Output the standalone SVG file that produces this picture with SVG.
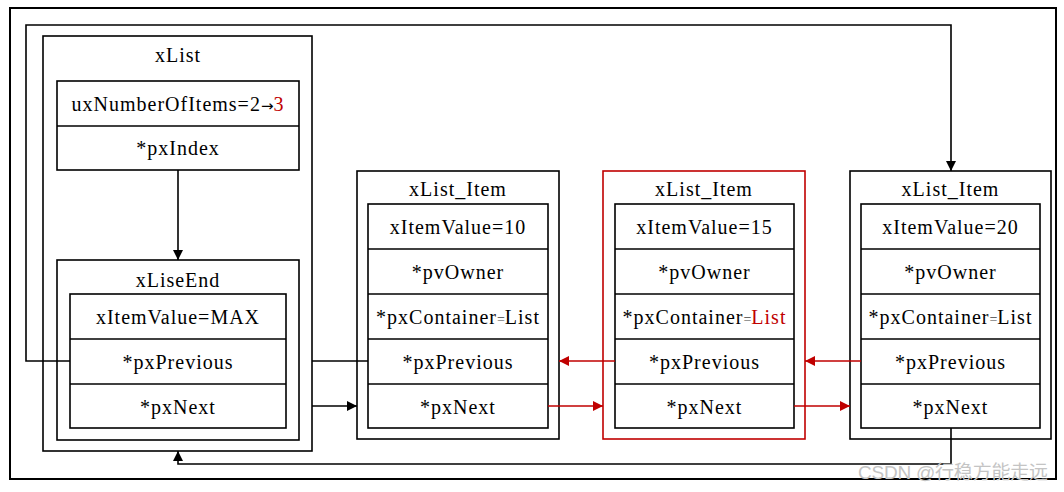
<svg xmlns="http://www.w3.org/2000/svg" width="1064" height="492" viewBox="0 0 1064 492">
<style>
.box{fill:none;stroke:#000;stroke-width:1.6}
.rbox{fill:none;stroke:#c00000;stroke-width:1.6}
.t{font-family:"Liberation Serif","Times New Roman",serif;font-size:20px;letter-spacing:1px;fill:#000;text-anchor:middle}
.eq{font-size:14px;fill:#444;letter-spacing:0}
.arr{font-family:"DejaVu Sans",sans-serif;font-size:15px;fill:#000;letter-spacing:0}
.red{fill:#c00000}
.c{fill:none;stroke:#000;stroke-width:1.6}
.rc{fill:none;stroke:#c00000;stroke-width:1.6}
.wm{font-family:"Liberation Sans","Noto Sans CJK SC",sans-serif;font-size:19px;fill:#c4c4c4}
</style>
<defs>
<marker id="ab" markerUnits="userSpaceOnUse" markerWidth="10" markerHeight="10" refX="10" refY="5" orient="auto"><path d="M0,0 L10,5 L0,10 z" fill="#000"/></marker>
<marker id="ar" markerUnits="userSpaceOnUse" markerWidth="10" markerHeight="10" refX="10" refY="5" orient="auto"><path d="M0,0 L10,5 L0,10 z" fill="#c00000"/></marker>
</defs>
<rect x="10" y="8" width="1046" height="471" fill="#fff" stroke="#000" stroke-width="2"/>

<g id="xList">
<rect class="box" x="43" y="36" width="269" height="415"/>
<text class="t" x="178" y="62">xList</text>
<rect class="box" x="57" y="81" width="242" height="89"/>
<line class="box" x1="57" y1="126" x2="299" y2="126"/>
<text class="t" x="178" y="110.5">uxNumberOfItems=2<tspan class="arr">→</tspan><tspan class="red">3</tspan></text>
<text class="t" x="178" y="155">*pxIndex</text>
</g>

<g id="xLiseEnd">
<rect class="box" x="57" y="260" width="242" height="180"/>
<text class="t" x="178" y="287">xLiseEnd</text>
<rect class="box" x="70" y="294" width="216" height="134"/>
<line class="box" x1="70" y1="339" x2="286" y2="339"/>
<line class="box" x1="70" y1="384" x2="286" y2="384"/>
<text class="t" x="178" y="323.5">xItemValue=MAX</text>
<text class="t" x="178" y="368.5">*pxPrevious</text>
<text class="t" x="178" y="413.5">*pxNext</text>
</g>

<g id="item1">
<rect class="box" x="357" y="171" width="202" height="268"/>
<text class="t" x="458" y="196">xList_Item</text>
<rect class="box" x="368" y="204" width="180" height="224"/>
<line class="box" x1="368" y1="249" x2="548" y2="249"/>
<line class="box" x1="368" y1="294" x2="548" y2="294"/>
<line class="box" x1="368" y1="339" x2="548" y2="339"/>
<line class="box" x1="368" y1="384" x2="548" y2="384"/>
<text class="t" x="458" y="233.5">xItemValue=10</text>
<text class="t" x="458" y="278.5">*pvOwner</text>
<text class="t" x="458" y="323.5">*pxContainer<tspan class="eq">=</tspan>List</text>
<text class="t" x="458" y="368.5">*pxPrevious</text>
<text class="t" x="458" y="413.5">*pxNext</text>
</g>

<g id="item2">
<rect class="rbox" x="603" y="171" width="202" height="268"/>
<text class="t" x="704" y="196">xList_Item</text>
<rect class="box" x="615" y="204" width="179" height="224"/>
<line class="box" x1="615" y1="249" x2="794" y2="249"/>
<line class="box" x1="615" y1="294" x2="794" y2="294"/>
<line class="box" x1="615" y1="339" x2="794" y2="339"/>
<line class="box" x1="615" y1="384" x2="794" y2="384"/>
<text class="t" x="704.5" y="233.5">xItemValue=15</text>
<text class="t" x="704.5" y="278.5">*pvOwner</text>
<text class="t" x="704.5" y="323.5">*pxContainer<tspan class="eq">=</tspan><tspan class="red">List</tspan></text>
<text class="t" x="704.5" y="368.5">*pxPrevious</text>
<text class="t" x="704.5" y="413.5">*pxNext</text>
</g>

<g id="item3">
<rect class="box" x="850" y="171" width="201" height="268"/>
<text class="t" x="950.5" y="196">xList_Item</text>
<rect class="box" x="861" y="204" width="179" height="224"/>
<line class="box" x1="861" y1="249" x2="1040" y2="249"/>
<line class="box" x1="861" y1="294" x2="1040" y2="294"/>
<line class="box" x1="861" y1="339" x2="1040" y2="339"/>
<line class="box" x1="861" y1="384" x2="1040" y2="384"/>
<text class="t" x="950.5" y="233.5">xItemValue=20</text>
<text class="t" x="950.5" y="278.5">*pvOwner</text>
<text class="t" x="950.5" y="323.5">*pxContainer<tspan class="eq">=</tspan>List</text>
<text class="t" x="950.5" y="368.5">*pxPrevious</text>
<text class="t" x="950.5" y="413.5">*pxNext</text>
</g>

<g id="connectors">
<line class="c" x1="178" y1="170" x2="178" y2="260" marker-end="url(#ab)"/>
<polyline class="c" points="70,361 26,361 26,25 951,25 951,171" marker-end="url(#ab)"/>
<line class="c" x1="312" y1="361" x2="368" y2="361"/>
<line class="c" x1="312" y1="406" x2="357" y2="406" marker-end="url(#ab)"/>
<polyline class="c" points="951,428 951,464 178,464 178,451" marker-end="url(#ab)"/>
<line class="rc" x1="615" y1="361" x2="559" y2="361" marker-end="url(#ar)"/>
<line class="rc" x1="548" y1="406" x2="603" y2="406" marker-end="url(#ar)"/>
<line class="rc" x1="861" y1="361" x2="805" y2="361" marker-end="url(#ar)"/>
<line class="rc" x1="794" y1="406" x2="850" y2="406" marker-end="url(#ar)"/>
</g>

<text class="wm" x="858" y="479" textLength="190" lengthAdjust="spacing">CSDN @行稳方能走远</text>
</svg>
